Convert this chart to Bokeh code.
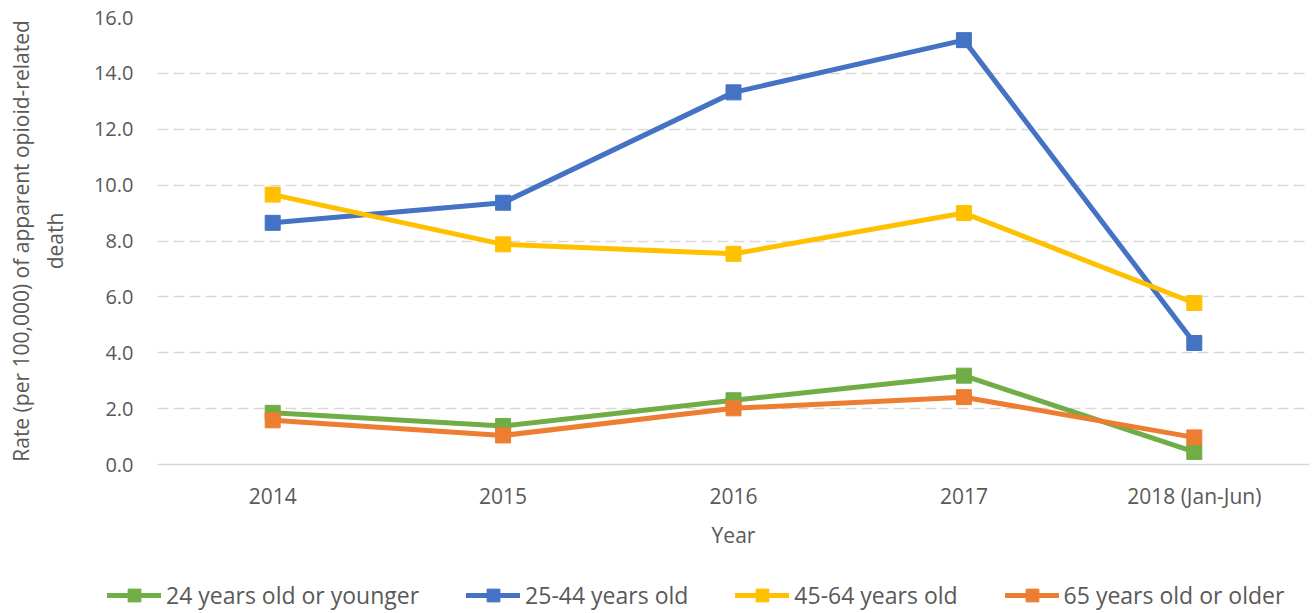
from bokeh.plotting import figure
from bokeh.layouts import column
from bokeh.models import FactorRange, Range1d, Legend, LegendItem, FixedTicker, NumeralTickFormatter
from bokeh.embed import file_html
from bokeh.resources import INLINE

years = ["2014", "2015", "2016", "2017", "2018 (Jan-Jun)"]
young = [1.85, 1.38, 2.30, 3.18, 0.45]
adult = [8.65, 9.37, 13.32, 15.19, 4.35]
middle = [9.66, 7.88, 7.54, 9.00, 5.78]
senior = [1.58, 1.04, 2.01, 2.41, 0.97]
series_names = ["24 years old or younger", "25-44 years old", "45-64 years old", "65 years old or older"]
colors = ["#70AD47", "#4472C4", "#FFC000", "#ED7D31"]
y_ticks = [0, 2, 4, 6, 8, 10, 12, 14, 16]

FONT = "Open Sans"
TXT = "#595959"
W = 1310

p = figure(width=W, height=578, x_range=FactorRange(factors=years), y_range=Range1d(0, 16),
           output_backend="svg", toolbar_location=None,
           min_border_left=157, min_border_right=1, min_border_top=17, min_border_bottom=114)
p.outline_line_color = None
p.frame_align = False

for name, vals, col in zip(series_names, [young, adult, middle, senior], colors):
    p.line(years, vals, line_color=col, line_width=5, line_cap="round", line_join="round")
    p.scatter(years, vals, marker="square", size=15, fill_color=col, line_color=col)

p.yaxis.ticker = FixedTicker(ticks=y_ticks)
p.yaxis.formatter = NumeralTickFormatter(format="0.0")
p.yaxis.axis_line_color = None
p.yaxis.major_tick_line_color = None
p.yaxis.minor_tick_line_color = None
p.yaxis.major_label_text_font = FONT
p.yaxis.major_label_text_font_size = "20px"
p.yaxis.major_label_text_color = TXT
p.yaxis.major_label_standoff = 18
p.yaxis.axis_label = "Rate (per 100,000) of apparent opioid-related\ndeath"
p.yaxis.axis_label_text_font = FONT
p.yaxis.axis_label_text_font_size = "21px"
p.yaxis.axis_label_text_font_style = "normal"
p.yaxis.axis_label_text_color = TXT
p.yaxis.axis_label_standoff = 22

p.xaxis.axis_line_color = "#D9D9D9"
p.xaxis.axis_line_width = 1.5
p.xaxis.major_tick_line_color = None
p.xaxis.minor_tick_line_color = None
p.xaxis.major_label_text_font = FONT
p.xaxis.major_label_text_font_size = "21px"
p.xaxis.major_label_text_color = TXT
p.xaxis.major_label_standoff = 11
p.xaxis.axis_label = "Year"
p.xaxis.axis_label_text_font = FONT
p.xaxis.axis_label_text_font_size = "21px"
p.xaxis.axis_label_text_font_style = "normal"
p.xaxis.axis_label_text_color = TXT
p.xaxis.axis_label_standoff = 8

p.xgrid.grid_line_color = None
p.ygrid.grid_line_color = "#D9D9D9"
p.ygrid.grid_line_dash = "11 5"
p.ygrid.grid_line_width = 1.5

# legend strip below the chart (its sample glyphs sit outside the visible range)
q = figure(width=W, height=34, x_range=Range1d(0, 1), y_range=Range1d(0, 1),
           output_backend="svg", toolbar_location=None,
           min_border_left=0, min_border_right=0, min_border_top=0, min_border_bottom=0)
q.frame_align = False
q.axis.visible = False
q.grid.visible = False
q.outline_line_color = None
items = []
for name, col in zip(series_names, colors):
    lr = q.line(x=[5, 6], y=[5, 5], line_color=col, line_width=5, line_cap="round")
    sr = q.scatter(x=[5], y=[5], marker="square", size=15, fill_color=col, line_color=col)
    items.append(LegendItem(label=name, renderers=[lr, sr]))
legend = Legend(items=items, orientation="horizontal", location=(107, 1),
                glyph_width=54, glyph_height=32, label_standoff=5, spacing=47,
                padding=0, margin=0, border_line_color=None, background_fill_alpha=0,
                label_text_font=FONT, label_text_font_size="23px", label_text_color=TXT)
q.add_layout(legend, "center")

layout = column(p, q, spacing=0)
open("out.html", "w").write(file_html(layout, INLINE))
